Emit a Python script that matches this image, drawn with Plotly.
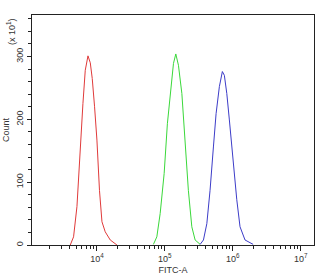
import plotly.graph_objects as go

# FITC-A values (linear) and counts (x10^1)
red_x = [4050, 4530, 5080, 5680, 6220, 6730, 7380, 7980, 8530, 9230, 10000, 10900, 11860, 13240, 15700, 19700]
red_y = [0, 13, 61, 160, 225, 278, 301, 290, 265, 220, 167, 87, 37, 21, 8, 0]

green_x = [67900, 76200, 85300, 97700, 109000, 124000, 134000, 145000, 158500, 178000, 199000, 222000, 249500, 279000, 331000]
green_y = [1, 13, 50, 114, 193, 257, 289, 304, 286, 241, 167, 87, 29, 8, 1]

blue_x = [331000, 370000, 415000, 463000, 519000, 568000, 635000, 703000, 752000, 817000, 891000, 1000000, 1146000, 1279000, 1514000, 1995000]
blue_y = [1, 8, 34, 87, 156, 209, 252, 276, 270, 241, 199, 140, 72, 29, 8, 1]

x_major = [1e4, 1e5, 1e6, 1e7]
x_major_text = ["10<sup>4</sup>", "10<sup>5</sup>", "10<sup>6</sup>", "10<sup>7</sup>"]
x_minor = [m * 10 ** e for e in [3, 4, 5, 6, 7] for m in range(2, 10)]
y_major = [0, 100, 200, 300]

fig = go.Figure()
for xs, ys, col in [(red_x, red_y, "#e03a3a"), (green_x, green_y, "#3ad83a"), (blue_x, blue_y, "#3c3cc8")]:
    fig.add_trace(go.Scatter(x=xs, y=ys, mode="lines", line=dict(color=col, width=1), showlegend=False))

font = dict(family="Liberation Sans, Arial, sans-serif", size=9, color="#333")

fig.update_layout(
    width=333, height=275,
    margin=dict(l=32, r=19, t=15, b=30, autoexpand=False),
    paper_bgcolor="white", plot_bgcolor="white",
    font=font,
    xaxis=dict(
        type="log", range=[3.044, 7.196], automargin=False,
        tickmode="array", tickvals=x_major, ticktext=x_major_text,
        ticks="outside", ticklen=5, tickcolor="#222", tickwidth=1,
        minor=dict(tickmode="array", tickvals=x_minor, ticks="outside", ticklen=3, tickcolor="#222"),
        showgrid=False, zeroline=False,
        showline=True, linecolor="#222", linewidth=1, mirror=True,
        title=dict(text="FITC-A", font=font, standoff=3),
    ),
    yaxis=dict(
        range=[0, 366], automargin=False,
        tickmode="array", tickvals=y_major, tickangle=-90,
        ticks="outside", ticklen=4, tickcolor="#222",
        minor=dict(dtick=20, tick0=0, ticks="outside", ticklen=3, tickcolor="#222"),
        showgrid=False, zeroline=False,
        showline=True, linecolor="#222", linewidth=1, mirror=True,
        title=dict(text="Count", font=font, standoff=4),
    ),
    annotations=[dict(text="(x 10<sup>1</sup>)", xref="paper", yref="paper", x=-0.075, y=0.93,
                      xanchor="center", yanchor="middle", textangle=-90, showarrow=False, font=font)],
)

fig.write_html("out.html")
